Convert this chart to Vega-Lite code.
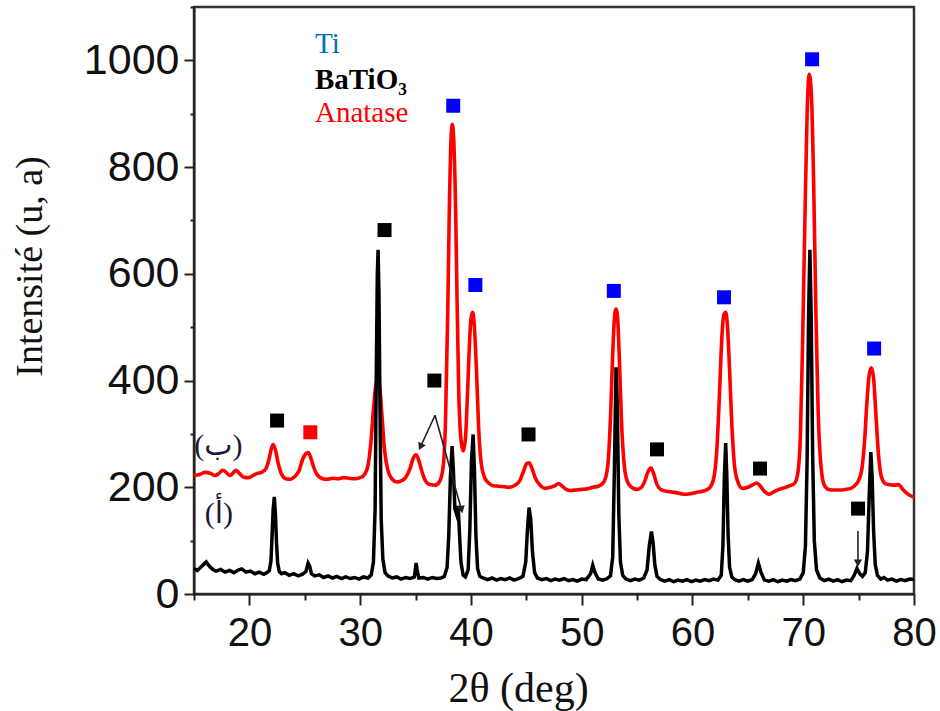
{
  "$schema": "https://vega.github.io/schema/vega-lite/v6.json",
  "width": 720,
  "height": 587,
  "autosize": "none",
  "padding": {"left": 194, "top": 7, "right": 26, "bottom": 117},
  "background": "white",
  "config": {
    "view": {"stroke": "#333333", "strokeWidth": 2.5},
    "axis": {"grid": false}
  },
  "datasets": {
    "curve_a": [
      {"x": 15.0, "y": 48}, {"x": 15.3, "y": 44}, {"x": 15.6, "y": 50}, {"x": 15.9, "y": 56}, {"x": 16.1, "y": 60},
      {"x": 16.4, "y": 52}, {"x": 16.7, "y": 46}, {"x": 17.0, "y": 43}, {"x": 17.4, "y": 46}, {"x": 17.8, "y": 41},
      {"x": 18.2, "y": 44}, {"x": 18.6, "y": 40}, {"x": 19.0, "y": 45}, {"x": 19.3, "y": 47}, {"x": 19.7, "y": 41},
      {"x": 20.1, "y": 43}, {"x": 20.5, "y": 38}, {"x": 20.9, "y": 41}, {"x": 21.3, "y": 37}, {"x": 21.6, "y": 40},
      {"x": 21.8, "y": 44}, {"x": 21.95, "y": 62}, {"x": 22.05, "y": 110}, {"x": 22.15, "y": 160}, {"x": 22.25, "y": 182},
      {"x": 22.35, "y": 150}, {"x": 22.45, "y": 95}, {"x": 22.55, "y": 58}, {"x": 22.7, "y": 42}, {"x": 22.9, "y": 38},
      {"x": 23.2, "y": 40}, {"x": 23.6, "y": 35}, {"x": 24.0, "y": 38}, {"x": 24.4, "y": 34}, {"x": 24.8, "y": 37},
      {"x": 25.1, "y": 42}, {"x": 25.3, "y": 58}, {"x": 25.45, "y": 52}, {"x": 25.6, "y": 38}, {"x": 25.9, "y": 34},
      {"x": 26.3, "y": 36}, {"x": 26.7, "y": 31}, {"x": 27.1, "y": 34}, {"x": 27.5, "y": 30}, {"x": 27.9, "y": 33},
      {"x": 28.3, "y": 29}, {"x": 28.7, "y": 32}, {"x": 29.1, "y": 29}, {"x": 29.5, "y": 31}, {"x": 29.9, "y": 28},
      {"x": 30.3, "y": 32}, {"x": 30.7, "y": 30}, {"x": 31.0, "y": 36}, {"x": 31.2, "y": 60}, {"x": 31.35, "y": 160},
      {"x": 31.45, "y": 400}, {"x": 31.55, "y": 600}, {"x": 31.62, "y": 645}, {"x": 31.7, "y": 560}, {"x": 31.8, "y": 330},
      {"x": 31.9, "y": 140}, {"x": 32.05, "y": 65}, {"x": 32.25, "y": 40}, {"x": 32.5, "y": 34}, {"x": 32.9, "y": 30},
      {"x": 33.3, "y": 32}, {"x": 33.7, "y": 28}, {"x": 34.1, "y": 31}, {"x": 34.5, "y": 29}, {"x": 34.9, "y": 32},
      {"x": 35.05, "y": 58}, {"x": 35.15, "y": 45}, {"x": 35.3, "y": 30}, {"x": 35.7, "y": 31}, {"x": 36.1, "y": 28},
      {"x": 36.5, "y": 31}, {"x": 36.9, "y": 29}, {"x": 37.3, "y": 30}, {"x": 37.6, "y": 33}, {"x": 37.85, "y": 50},
      {"x": 38.0, "y": 110}, {"x": 38.15, "y": 220}, {"x": 38.3, "y": 277}, {"x": 38.42, "y": 230}, {"x": 38.55, "y": 160},
      {"x": 38.7, "y": 150}, {"x": 38.85, "y": 165}, {"x": 38.95, "y": 120}, {"x": 39.1, "y": 60}, {"x": 39.3, "y": 35},
      {"x": 39.5, "y": 32}, {"x": 39.75, "y": 45}, {"x": 39.9, "y": 120}, {"x": 40.05, "y": 250}, {"x": 40.2, "y": 299},
      {"x": 40.32, "y": 230}, {"x": 40.45, "y": 110}, {"x": 40.6, "y": 48}, {"x": 40.8, "y": 33}, {"x": 41.1, "y": 30},
      {"x": 41.5, "y": 27}, {"x": 41.9, "y": 30}, {"x": 42.3, "y": 26}, {"x": 42.7, "y": 29}, {"x": 43.1, "y": 27},
      {"x": 43.5, "y": 30}, {"x": 43.9, "y": 26}, {"x": 44.3, "y": 29}, {"x": 44.7, "y": 33}, {"x": 44.95, "y": 60},
      {"x": 45.1, "y": 120}, {"x": 45.25, "y": 162}, {"x": 45.4, "y": 140}, {"x": 45.55, "y": 80}, {"x": 45.75, "y": 40},
      {"x": 46.0, "y": 30}, {"x": 46.4, "y": 27}, {"x": 46.8, "y": 29}, {"x": 47.2, "y": 25}, {"x": 47.6, "y": 28},
      {"x": 48.0, "y": 26}, {"x": 48.4, "y": 29}, {"x": 48.8, "y": 25}, {"x": 49.2, "y": 27}, {"x": 49.6, "y": 24},
      {"x": 50.0, "y": 28}, {"x": 50.4, "y": 27}, {"x": 50.8, "y": 38}, {"x": 51.0, "y": 54}, {"x": 51.2, "y": 40},
      {"x": 51.5, "y": 28}, {"x": 51.9, "y": 26}, {"x": 52.3, "y": 29}, {"x": 52.6, "y": 34}, {"x": 52.8, "y": 70},
      {"x": 52.95, "y": 230}, {"x": 53.1, "y": 425}, {"x": 53.22, "y": 350}, {"x": 53.35, "y": 150}, {"x": 53.5, "y": 60},
      {"x": 53.7, "y": 35}, {"x": 54.0, "y": 28}, {"x": 54.4, "y": 25}, {"x": 54.8, "y": 28}, {"x": 55.2, "y": 26},
      {"x": 55.6, "y": 30}, {"x": 55.9, "y": 45}, {"x": 56.1, "y": 90}, {"x": 56.3, "y": 117}, {"x": 56.45, "y": 95},
      {"x": 56.6, "y": 55}, {"x": 56.8, "y": 33}, {"x": 57.1, "y": 27}, {"x": 57.5, "y": 24}, {"x": 57.9, "y": 27},
      {"x": 58.3, "y": 23}, {"x": 58.7, "y": 26}, {"x": 59.1, "y": 24}, {"x": 59.5, "y": 27}, {"x": 59.9, "y": 23},
      {"x": 60.3, "y": 26}, {"x": 60.7, "y": 24}, {"x": 61.1, "y": 27}, {"x": 61.5, "y": 25}, {"x": 61.9, "y": 28},
      {"x": 62.3, "y": 26}, {"x": 62.6, "y": 35}, {"x": 62.75, "y": 90}, {"x": 62.88, "y": 220}, {"x": 63.0, "y": 283},
      {"x": 63.1, "y": 220}, {"x": 63.22, "y": 110}, {"x": 63.35, "y": 50}, {"x": 63.55, "y": 32}, {"x": 63.8, "y": 27},
      {"x": 64.2, "y": 24}, {"x": 64.6, "y": 27}, {"x": 65.0, "y": 24}, {"x": 65.4, "y": 27}, {"x": 65.7, "y": 38},
      {"x": 65.95, "y": 58}, {"x": 66.2, "y": 40}, {"x": 66.5, "y": 26}, {"x": 66.9, "y": 24}, {"x": 67.3, "y": 27},
      {"x": 67.7, "y": 23}, {"x": 68.1, "y": 26}, {"x": 68.5, "y": 24}, {"x": 68.9, "y": 27}, {"x": 69.3, "y": 25},
      {"x": 69.7, "y": 28}, {"x": 70.0, "y": 40}, {"x": 70.2, "y": 90}, {"x": 70.35, "y": 250}, {"x": 70.48, "y": 520},
      {"x": 70.6, "y": 645}, {"x": 70.72, "y": 520}, {"x": 70.85, "y": 260}, {"x": 71.0, "y": 100}, {"x": 71.2, "y": 45},
      {"x": 71.5, "y": 30}, {"x": 71.9, "y": 25}, {"x": 72.3, "y": 28}, {"x": 72.7, "y": 24}, {"x": 73.1, "y": 27},
      {"x": 73.5, "y": 23}, {"x": 73.9, "y": 26}, {"x": 74.3, "y": 25}, {"x": 74.6, "y": 35}, {"x": 74.85, "y": 48},
      {"x": 75.1, "y": 38}, {"x": 75.35, "y": 33}, {"x": 75.6, "y": 40}, {"x": 75.8, "y": 80}, {"x": 75.95, "y": 180},
      {"x": 76.1, "y": 266}, {"x": 76.22, "y": 220}, {"x": 76.35, "y": 120}, {"x": 76.5, "y": 55}, {"x": 76.7, "y": 35},
      {"x": 77.0, "y": 28}, {"x": 77.3, "y": 31}, {"x": 77.6, "y": 26}, {"x": 78.0, "y": 28}, {"x": 78.4, "y": 24},
      {"x": 78.8, "y": 27}, {"x": 79.2, "y": 25}, {"x": 79.6, "y": 28}, {"x": 80.0, "y": 27}
    ],
    "curve_b": [
      {"x": 15.0, "y": 222}, {"x": 15.5, "y": 224}, {"x": 16.0, "y": 228}, {"x": 16.5, "y": 226}, {"x": 16.9, "y": 222},
      {"x": 17.3, "y": 227}, {"x": 17.6, "y": 232}, {"x": 17.9, "y": 228}, {"x": 18.2, "y": 222}, {"x": 18.5, "y": 226},
      {"x": 18.8, "y": 232}, {"x": 19.1, "y": 226}, {"x": 19.5, "y": 219}, {"x": 19.9, "y": 218}, {"x": 20.3, "y": 222},
      {"x": 20.7, "y": 226}, {"x": 21.1, "y": 228}, {"x": 21.5, "y": 235}, {"x": 21.8, "y": 255}, {"x": 22.0, "y": 274},
      {"x": 22.15, "y": 280}, {"x": 22.35, "y": 270}, {"x": 22.6, "y": 245}, {"x": 22.9, "y": 225}, {"x": 23.3, "y": 216},
      {"x": 23.7, "y": 215}, {"x": 24.1, "y": 220}, {"x": 24.5, "y": 232}, {"x": 24.8, "y": 252}, {"x": 25.1, "y": 263},
      {"x": 25.3, "y": 265}, {"x": 25.55, "y": 255}, {"x": 25.8, "y": 238}, {"x": 26.1, "y": 224}, {"x": 26.5, "y": 217},
      {"x": 27.0, "y": 215}, {"x": 27.5, "y": 217}, {"x": 28.0, "y": 216}, {"x": 28.5, "y": 218}, {"x": 29.0, "y": 217},
      {"x": 29.5, "y": 216}, {"x": 30.0, "y": 218}, {"x": 30.4, "y": 224}, {"x": 30.7, "y": 240}, {"x": 30.95, "y": 280},
      {"x": 31.2, "y": 345}, {"x": 31.45, "y": 395}, {"x": 31.6, "y": 400}, {"x": 31.75, "y": 390}, {"x": 31.95, "y": 340},
      {"x": 32.2, "y": 270}, {"x": 32.5, "y": 232}, {"x": 32.9, "y": 215}, {"x": 33.3, "y": 210}, {"x": 33.7, "y": 212},
      {"x": 34.1, "y": 218}, {"x": 34.5, "y": 235}, {"x": 34.8, "y": 255}, {"x": 35.05, "y": 261}, {"x": 35.3, "y": 250},
      {"x": 35.6, "y": 228}, {"x": 35.9, "y": 212}, {"x": 36.3, "y": 205}, {"x": 36.8, "y": 204}, {"x": 37.2, "y": 212},
      {"x": 37.5, "y": 240}, {"x": 37.7, "y": 320}, {"x": 37.9, "y": 520}, {"x": 38.05, "y": 720}, {"x": 38.2, "y": 850},
      {"x": 38.32, "y": 880}, {"x": 38.45, "y": 850}, {"x": 38.6, "y": 740}, {"x": 38.75, "y": 550}, {"x": 38.9, "y": 380},
      {"x": 39.1, "y": 290}, {"x": 39.3, "y": 268}, {"x": 39.5, "y": 290}, {"x": 39.7, "y": 380}, {"x": 39.85, "y": 460},
      {"x": 40.0, "y": 515}, {"x": 40.15, "y": 528}, {"x": 40.3, "y": 505}, {"x": 40.5, "y": 420}, {"x": 40.7, "y": 310},
      {"x": 40.9, "y": 250}, {"x": 41.2, "y": 220}, {"x": 41.6, "y": 208}, {"x": 42.0, "y": 203}, {"x": 42.5, "y": 202},
      {"x": 43.0, "y": 201}, {"x": 43.5, "y": 200}, {"x": 44.0, "y": 204}, {"x": 44.4, "y": 212}, {"x": 44.75, "y": 230},
      {"x": 45.05, "y": 245}, {"x": 45.25, "y": 246}, {"x": 45.5, "y": 236}, {"x": 45.8, "y": 218}, {"x": 46.2, "y": 205},
      {"x": 46.7, "y": 198}, {"x": 47.2, "y": 200}, {"x": 47.6, "y": 203}, {"x": 47.9, "y": 207}, {"x": 48.2, "y": 203},
      {"x": 48.6, "y": 196}, {"x": 49.0, "y": 194}, {"x": 49.5, "y": 195}, {"x": 50.0, "y": 196}, {"x": 50.5, "y": 197},
      {"x": 51.0, "y": 200}, {"x": 51.5, "y": 202}, {"x": 52.0, "y": 210}, {"x": 52.35, "y": 240}, {"x": 52.6, "y": 330},
      {"x": 52.8, "y": 450}, {"x": 52.95, "y": 515}, {"x": 53.1, "y": 534}, {"x": 53.25, "y": 515}, {"x": 53.4, "y": 440},
      {"x": 53.6, "y": 320}, {"x": 53.85, "y": 240}, {"x": 54.1, "y": 212}, {"x": 54.5, "y": 200}, {"x": 55.0, "y": 196},
      {"x": 55.4, "y": 200}, {"x": 55.7, "y": 212}, {"x": 56.0, "y": 230}, {"x": 56.25, "y": 236}, {"x": 56.5, "y": 225},
      {"x": 56.8, "y": 205}, {"x": 57.2, "y": 195}, {"x": 57.8, "y": 192}, {"x": 58.5, "y": 190}, {"x": 59.2, "y": 187},
      {"x": 59.8, "y": 188}, {"x": 60.5, "y": 191}, {"x": 61.0, "y": 193}, {"x": 61.5, "y": 198}, {"x": 61.9, "y": 215},
      {"x": 62.2, "y": 270}, {"x": 62.45, "y": 380}, {"x": 62.65, "y": 480}, {"x": 62.85, "y": 524}, {"x": 63.0, "y": 528},
      {"x": 63.15, "y": 505}, {"x": 63.35, "y": 420}, {"x": 63.55, "y": 320}, {"x": 63.8, "y": 240}, {"x": 64.1, "y": 210},
      {"x": 64.5, "y": 198}, {"x": 65.0, "y": 200}, {"x": 65.4, "y": 204}, {"x": 65.8, "y": 208}, {"x": 66.1, "y": 203},
      {"x": 66.5, "y": 192}, {"x": 66.9, "y": 187}, {"x": 67.3, "y": 191}, {"x": 67.8, "y": 196}, {"x": 68.3, "y": 199},
      {"x": 68.8, "y": 203}, {"x": 69.2, "y": 207}, {"x": 69.5, "y": 225}, {"x": 69.75, "y": 300}, {"x": 69.95, "y": 480},
      {"x": 70.15, "y": 700}, {"x": 70.35, "y": 900}, {"x": 70.55, "y": 974}, {"x": 70.75, "y": 930}, {"x": 70.95, "y": 760},
      {"x": 71.15, "y": 520}, {"x": 71.35, "y": 340}, {"x": 71.6, "y": 240}, {"x": 71.9, "y": 204}, {"x": 72.3, "y": 196},
      {"x": 72.8, "y": 195}, {"x": 73.3, "y": 195}, {"x": 73.8, "y": 196}, {"x": 74.3, "y": 198}, {"x": 74.7, "y": 204},
      {"x": 75.0, "y": 213}, {"x": 75.3, "y": 235}, {"x": 75.55, "y": 290}, {"x": 75.75, "y": 360}, {"x": 75.95, "y": 410},
      {"x": 76.15, "y": 424}, {"x": 76.35, "y": 405}, {"x": 76.55, "y": 340}, {"x": 76.8, "y": 260}, {"x": 77.05, "y": 220},
      {"x": 77.4, "y": 207}, {"x": 77.8, "y": 205}, {"x": 78.2, "y": 204}, {"x": 78.6, "y": 205}, {"x": 79.0, "y": 196},
      {"x": 79.4, "y": 188}, {"x": 79.8, "y": 183}, {"x": 80.0, "y": 182}
    ],
    "phases": [
      {"x": 22.5, "y": 325, "phase": "BaTiO3"},
      {"x": 25.5, "y": 303, "phase": "Anatase"},
      {"x": 32.2, "y": 682, "phase": "BaTiO3"},
      {"x": 36.7, "y": 400, "phase": "BaTiO3"},
      {"x": 38.4, "y": 915, "phase": "Ti"},
      {"x": 40.4, "y": 579, "phase": "Ti"},
      {"x": 45.2, "y": 299, "phase": "BaTiO3"},
      {"x": 52.9, "y": 568, "phase": "Ti"},
      {"x": 56.8, "y": 271, "phase": "BaTiO3"},
      {"x": 62.85, "y": 556, "phase": "Ti"},
      {"x": 66.1, "y": 235, "phase": "BaTiO3"},
      {"x": 70.8, "y": 1002, "phase": "Ti"},
      {"x": 74.95, "y": 160, "phase": "BaTiO3"},
      {"x": 76.4, "y": 460, "phase": "Ti"}
    ],
    "arrows": [
      {"x": 36.76, "y": 335, "x2": 35.45, "y2": 276, "dir": 25},
      {"x": 36.76, "y": 335, "x2": 39.15, "y2": 158, "dir": -15},
      {"x": 74.94, "y": 118, "x2": 74.94, "y2": 58, "dir": 0}
    ],
    "notes": [
      {"x": 25.92, "y": 1013, "text": "Ti"},
      {"x": 25.92, "y": 947, "text": "BaTiO₃"},
      {"x": 25.92, "y": 885, "text": "Anatase"},
      {"x": 17.2, "y": 278, "text": "(ب)"},
      {"x": 17.25, "y": 150, "text": "(أ)"}
    ]
  },
  "layer": [
    {
      "data": {"name": "curve_b"},
      "mark": {"type": "line", "color": "#ff0000", "strokeWidth": 3.6, "interpolate": "monotone"},
      "encoding": {
        "x": {
          "field": "x", "type": "quantitative",
          "scale": {"domain": [15, 80], "nice": false, "zero": false},
          "axis": {
            "values": [15, 20, 25, 30, 35, 40, 45, 50, 55, 60, 65, 70, 75, 80],
            "labelExpr": "datum.value % 10 === 0 ? datum.label : ''",
            "tickSize": {"condition": {"test": "datum.value % 10 === 0", "value": 11}, "value": 6},
            "tickColor": "#222222", "tickWidth": 2,
            "domainColor": "#222222", "domainWidth": 2,
            "labelFont": "Liberation Sans", "labelFontSize": 40, "labelColor": "#111111",
            "labelPadding": 8, "labelFlush": false,
            "title": "2θ (deg)",
            "titleFont": "Liberation Serif", "titleFontSize": 42, "titleFontWeight": "normal",
            "titleColor": "#111111", "titleX": 324, "titleY": 94, "titleBaseline": "middle"
          }
        },
        "y": {
          "field": "y", "type": "quantitative",
          "scale": {"domain": [0, 1100], "nice": false},
          "axis": {
            "values": [0, 100, 200, 300, 400, 500, 600, 700, 800, 900, 1000, 1100],
            "labelExpr": "datum.value % 200 === 0 && datum.value <= 1000 ? format(datum.value, 'd') : ''",
            "tickSize": {"condition": {"test": "datum.value % 200 === 0", "value": 10}, "value": 4},
            "tickColor": "#222222", "tickWidth": 2,
            "domainColor": "#222222", "domainWidth": 2,
            "labelFont": "Liberation Sans", "labelFontSize": 43, "labelColor": "#111111",
            "labelPadding": 5, "labelFlush": false,
            "title": "Intensité (u, a)",
            "titleFont": "Liberation Serif", "titleFontSize": 38, "titleFontWeight": "normal",
            "titleColor": "#111111", "titleX": -164, "titleY": 259, "titleBaseline": "middle", "titleAlign": "center"
          }
        }
      }
    },
    {
      "data": {"name": "curve_a"},
      "mark": {"type": "line", "color": "#000000", "strokeWidth": 3.5, "interpolate": "linear"},
      "encoding": {
        "x": {"field": "x", "type": "quantitative"},
        "y": {"field": "y", "type": "quantitative"}
      }
    },
    {
      "data": {"name": "arrows"},
      "mark": {"type": "rule", "color": "#222222", "strokeWidth": 1.6},
      "encoding": {
        "x": {"field": "x", "type": "quantitative"},
        "y": {"field": "y", "type": "quantitative"},
        "x2": {"field": "x2"},
        "y2": {"field": "y2"}
      }
    },
    {
      "data": {"name": "arrows"},
      "mark": {"type": "point", "shape": "triangle-down", "filled": true, "color": "#222222", "size": 70, "opacity": 1},
      "encoding": {
        "x": {"field": "x2", "type": "quantitative"},
        "y": {"field": "y2", "type": "quantitative"},
        "angle": {"field": "dir", "type": "quantitative", "scale": null}
      }
    },
    {
      "data": {"name": "phases"},
      "mark": {"type": "point", "shape": "square", "filled": true, "size": 196, "opacity": 1},
      "encoding": {
        "x": {"field": "x", "type": "quantitative"},
        "y": {"field": "y", "type": "quantitative"},
        "color": {
          "field": "phase", "type": "nominal",
          "scale": {"domain": ["Ti", "BaTiO3", "Anatase"], "range": ["#0000ff", "#000000", "#ff0000"]},
          "legend": null
        }
      }
    },
    {
      "data": {"name": "notes"},
      "transform": [{"filter": "datum.text === 'Ti'"}],
      "mark": {"type": "text", "font": "Liberation Serif", "fontSize": 29, "color": "#0070c0", "align": "left", "baseline": "alphabetic"},
      "encoding": {"x": {"field": "x", "type": "quantitative"}, "y": {"field": "y", "type": "quantitative"}, "text": {"field": "text"}}
    },
    {
      "data": {"name": "notes"},
      "transform": [{"filter": "datum.text === 'BaTiO₃'"}],
      "mark": {"type": "text", "font": "Liberation Serif", "fontSize": 29, "fontWeight": "bold", "color": "#000000", "align": "left", "baseline": "alphabetic"},
      "encoding": {"x": {"field": "x", "type": "quantitative"}, "y": {"field": "y", "type": "quantitative"}, "text": {"field": "text"}}
    },
    {
      "data": {"name": "notes"},
      "transform": [{"filter": "datum.text === 'Anatase'"}],
      "mark": {"type": "text", "font": "Liberation Serif", "fontSize": 29, "color": "#ff0000", "align": "left", "baseline": "alphabetic"},
      "encoding": {"x": {"field": "x", "type": "quantitative"}, "y": {"field": "y", "type": "quantitative"}, "text": {"field": "text"}}
    },
    {
      "data": {"name": "notes"},
      "transform": [{"filter": "datum.text === '(ب)' || datum.text === '(أ)'"}],
      "mark": {"type": "text", "font": "Liberation Serif, DejaVu Sans", "fontSize": 30, "color": "#1a1a3a", "align": "center", "baseline": "middle"},
      "encoding": {"x": {"field": "x", "type": "quantitative"}, "y": {"field": "y", "type": "quantitative"}, "text": {"field": "text"}}
    }
  ]
}
